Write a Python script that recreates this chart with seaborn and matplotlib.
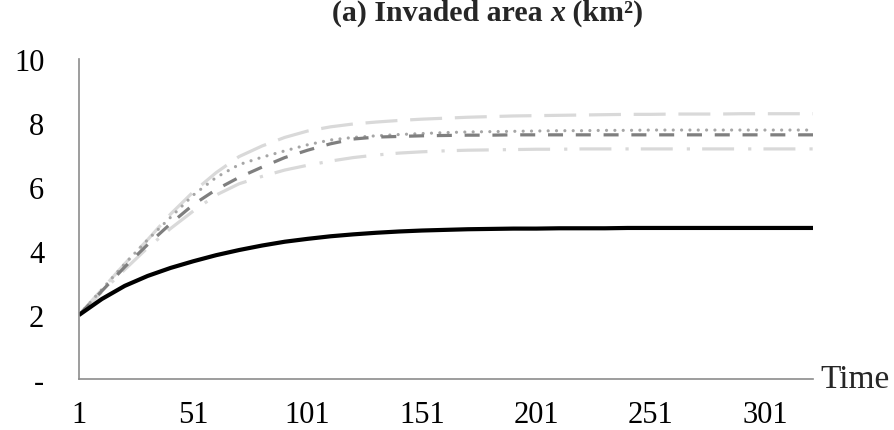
import matplotlib
matplotlib.use("Agg")
import matplotlib.pyplot as plt
import seaborn as sns
import pandas as pd

# ---- data ----
time = [1, 11, 21, 31, 41, 51, 61, 71, 81, 91, 101, 111, 121, 131, 141, 151, 161,
        171, 181, 191, 201, 211, 221, 231, 241, 251, 261, 271, 281, 291, 301, 311, 321, 322]

baseline = [2.00, 2.50, 2.91, 3.22, 3.47, 3.68, 3.87, 4.03, 4.17, 4.29, 4.38, 4.46, 4.52,
            4.57, 4.61, 4.64, 4.66, 4.68, 4.69, 4.70, 4.70, 4.71, 4.71, 4.71, 4.72, 4.72,
            4.72, 4.72, 4.72, 4.72, 4.72, 4.72, 4.72, 4.72]

upper = [2.00, 2.80, 3.60, 4.35, 5.15, 5.85, 6.45, 6.95, 7.28, 7.55, 7.75, 7.88, 7.97,
         8.03, 8.08, 8.12, 8.15, 8.18, 8.20, 8.22, 8.23, 8.24, 8.25, 8.26, 8.27, 8.27,
         8.28, 8.28, 8.28, 8.29, 8.29, 8.29, 8.29, 8.29]

dotted = [2.00, 2.80, 3.60, 4.35, 5.05, 5.75, 6.30, 6.70, 6.93, 7.13, 7.32, 7.47, 7.55,
          7.60, 7.64, 7.67, 7.70, 7.72, 7.73, 7.74, 7.75, 7.76, 7.76, 7.77, 7.77, 7.78,
          7.78, 7.78, 7.78, 7.78, 7.78, 7.78, 7.78, 7.78]

dashed = [2.00, 2.75, 3.50, 4.20, 4.85, 5.45, 5.92, 6.30, 6.62, 6.92, 7.15, 7.35, 7.50,
          7.56, 7.58, 7.60, 7.61, 7.62, 7.62, 7.63, 7.63, 7.63, 7.63, 7.63, 7.63, 7.63,
          7.63, 7.63, 7.63, 7.63, 7.63, 7.63, 7.63, 7.63]

lower = [2.00, 2.72, 3.42, 4.10, 4.70, 5.25, 5.75, 6.10, 6.33, 6.53, 6.68, 6.81, 6.92,
         7.00, 7.06, 7.10, 7.13, 7.15, 7.16, 7.17, 7.18, 7.18, 7.19, 7.19, 7.19, 7.19,
         7.19, 7.19, 7.19, 7.19, 7.19, 7.19, 7.19, 7.19]

x_ticks = [1, 51, 101, 151, 201, 251, 301]
y_ticks = [0, 2, 4, 6, 8, 10]
y_tick_labels = ["-", "2", "4", "6", "8", "10"]

# ---- plot ----
sns.set_theme(style="white")
plt.rcParams["font.family"] = ["Liberation Serif", "DejaVu Serif"]

fig = plt.figure(figsize=(8.94, 4.31), dpi=100)
ax = fig.add_axes([79 / 894, 1 - 380 / 431, (813 - 79) / 894, (380 - 60) / 431])

df = pd.DataFrame({"time": time, "baseline": baseline, "upper": upper,
                   "dotted": dotted, "dashed": dashed, "lower": lower})

styles = [
    ("upper", "#D9D9D9", 2.3, (0, (10, 4))),
    ("lower", "#D9D9D9", 2.3, (0, (10, 4.4, 1, 3.8))),
    ("dotted", "#A6A6A6", 2.3, (0, (0.01, 2.6))),
    ("dashed", "#7F7F7F", 2.3, (0, (4.7, 4))),
]
for col, color, lw, ls in styles:
    line_kw = dict(linestyle=ls)
    if col == "dotted":
        line_kw["dash_capstyle"] = "round"
    sns.lineplot(data=df, x="time", y=col, ax=ax, color=color, linewidth=lw, **line_kw)

sns.lineplot(data=df, x="time", y="baseline", ax=ax, color="black", linewidth=3.0,
             solid_capstyle="butt")

ax.set_xlim(1, 322)
ax.set_ylim(0, 10)
ax.set_xticks(x_ticks)
ax.set_xticklabels([str(v) for v in x_ticks])
ax.set_yticks(y_ticks)
ax.set_yticklabels(y_tick_labels)
ax.set_xlabel("")
ax.set_ylabel("")
ax.grid(False)

for s in ["top", "right"]:
    ax.spines[s].set_visible(False)
for s in ["left", "bottom"]:
    ax.spines[s].set_color("#8C8C8C")
    ax.spines[s].set_linewidth(1.2)

FS = 22
ax.tick_params(axis="both", length=0, labelsize=FS, colors="black")
ax.tick_params(axis="x", pad=15)
ax.tick_params(axis="y", pad=25)

ax.text(1.01, 0.0, "Time", transform=ax.transAxes, ha="left", va="center",
        fontsize=24)

# title built from three pieces (bold, bold-italic, bold)
TS = 21.5
t1 = fig.text(332 / 894, 1 - 27 / 431, "(a) Invaded area ", fontsize=TS,
              fontweight="bold", ha="left", va="bottom")
t2 = ax.annotate("x", xy=(1, 0), xycoords=t1, fontsize=TS, fontweight="bold",
                 fontstyle="italic", ha="left", va="bottom")
t3 = ax.annotate(" (km²)", xy=(1, 0), xycoords=t2, fontsize=TS, fontweight="bold",
                 ha="left", va="bottom")

fig.savefig("out.png", dpi=100)
